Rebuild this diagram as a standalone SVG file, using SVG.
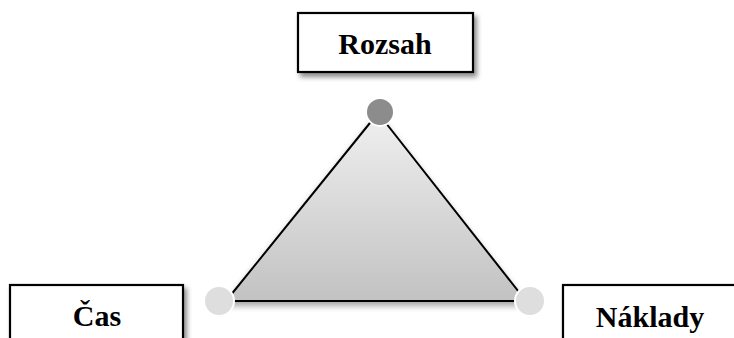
<svg xmlns="http://www.w3.org/2000/svg" width="734" height="338" viewBox="0 0 734 338">
<defs>
<style>
.box{fill:#fff;stroke:#000;stroke-width:2.2;filter:url(#sh)}
.lbl{font-family:"Liberation Serif","Times New Roman",serif;font-weight:bold;font-size:30px;fill:#000;text-anchor:middle}
.dot{stroke:#fff;stroke-width:2}
</style>
<linearGradient id="tg" x1="0" y1="0" x2="0" y2="1">
<stop offset="0" stop-color="#f0f0f0"/>
<stop offset="1" stop-color="#c2c2c2"/>
</linearGradient>
<filter id="sh" x="-20%" y="-20%" width="150%" height="160%">
<feDropShadow dx="3" dy="4" stdDeviation="2.5" flood-color="#000" flood-opacity="0.45"/>
</filter>
<filter id="tsh" x="-10%" y="-10%" width="120%" height="130%">
<feDropShadow dx="0" dy="4" stdDeviation="3" flood-color="#000" flood-opacity="0.35"/>
</filter>
</defs>
<g id="connectors">
<polygon points="378,113 226,301 526,301" fill="url(#tg)" stroke="#000" stroke-width="2" stroke-linejoin="round" filter="url(#tsh)"/>
</g>
<g id="dot-top"><circle class="dot" cx="380" cy="112" r="14" fill="#8c8c8c"/></g>
<g id="dot-left"><circle class="dot" cx="219" cy="301" r="15" fill="#dedede"/></g>
<g id="dot-right"><circle class="dot" cx="530" cy="301" r="15" fill="#dedede"/></g>
<g id="rozsah">
<rect class="box" x="298" y="13" width="175" height="59"/>
<text class="lbl" x="385" y="54">Rozsah</text>
</g>
<g id="cas">
<rect class="box" x="10" y="285" width="173" height="70"/>
<text class="lbl" x="97" y="326">Čas</text>
</g>
<g id="naklady">
<rect class="box" x="563" y="285" width="175" height="70"/>
<text class="lbl" x="650" y="327">Náklady</text>
</g>
</svg>
